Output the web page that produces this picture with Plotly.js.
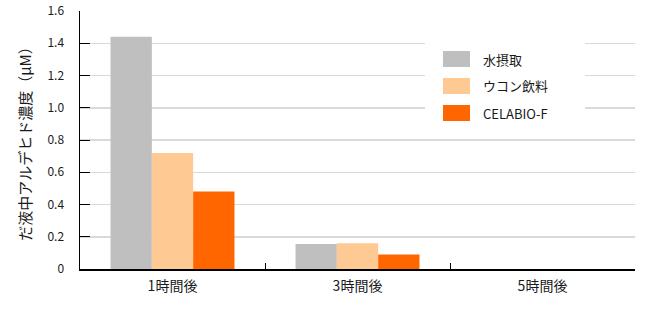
<!DOCTYPE html>
<html><head><meta charset="utf-8">
<script src="https://cdn.plot.ly/plotly-3.0.1.min.js"></script>
<style>html,body{margin:0;padding:0;background:#fff}#c{width:664px;height:314px}</style>
</head><body><div id="c"></div>
<script>
const categories = ["1時間後", "3時間後", "5時間後"];
const seriesNames = ["水摂取", "ウコン飲料", "CELABIO-F"];
const water = [1.44, 0.155, null];
const ukon = [0.72, 0.16, null];
const celabio = [0.48, 0.09, null];
const yTicks = [0, 0.2, 0.4, 0.6, 0.8, 1.0, 1.2, 1.4, 1.6];
const yTickText = ["0", "0.2", "0.4", "0.6", "0.8", "1.0", "1.2", "1.4", "1.6"];
const colors = ["#bfbfbf", "#ffc993", "#ff6600"];
const values = [water, ukon, celabio];

const font = "'Noto Sans CJK JP', 'Noto Sans', sans-serif";
const W = 664, H = 314, L = 80, R = 29, T = 11, B = 45;
const pw = W - L - R, ph = H - T - B;
const px = x => (x - L) / pw;
const py = y => (H - B - y) / ph;

const data = values.map((v, i) => ({
  type: "bar", x: categories, y: v, name: seriesNames[i],
  marker: {color: colors[i], line: {width: 0}}, showlegend: false
}));

// manual legend (box + symbols + labels)
const shapes = [{type: "rect", xref: "paper", yref: "paper", layer: "above",
  x0: px(425), x1: px(585), y0: py(132), y1: py(36), fillcolor: "#fff", line: {width: 0}}];
const annotations = [];
seriesNames.forEach((n, i) => {
  const top = 51 + i * 27;
  shapes.push({type: "rect", xref: "paper", yref: "paper", layer: "above",
    x0: px(443), x1: px(470), y0: py(top + 16), y1: py(top),
    fillcolor: colors[i], line: {width: 0}});
  annotations.push({xref: "paper", yref: "paper", x: px(481), y: py(top + 8),
    xanchor: "left", yanchor: "middle", showarrow: false, text: n,
    font: {size: 13, family: font, color: "#1a1a1a"}});
});

const layout = {
  width: W, height: H,
  margin: {l: L, r: R, t: T, b: B},
  paper_bgcolor: "#fff", plot_bgcolor: "#fff",
  barmode: "group", bargap: 0.33, bargroupgap: 0,
  font: {family: font, color: "#1a1a1a", size: 12},
  showlegend: false,
  shapes: shapes, annotations: annotations,
  xaxis: {type: "category", showline: true, linecolor: "#000", linewidth: 1.5,
          ticks: "inside", tickson: "boundaries", ticklen: 6, tickcolor: "#000",
          tickfont: {size: 14, family: font}, showgrid: false, fixedrange: true,
          ticklabelstandoff: 4},
  yaxis: {range: [0, 1.6], tickvals: yTicks, ticktext: yTickText,
          showline: true, linecolor: "#000", linewidth: 1.5,
          ticks: "inside", ticklen: 10, tickcolor: "#000",
          showgrid: true, gridcolor: "#d9d9d9", gridwidth: 1.5, zeroline: false,
          tickfont: {size: 12, family: font}, ticklabelstandoff: 12,
          title: {text: "だ液中アルデヒド濃度（μM）", font: {size: 15, family: font}, standoff: 12}}
};
Plotly.newPlot("c", data, layout, {staticPlot: true, displayModeBar: false});
</script></body></html>
